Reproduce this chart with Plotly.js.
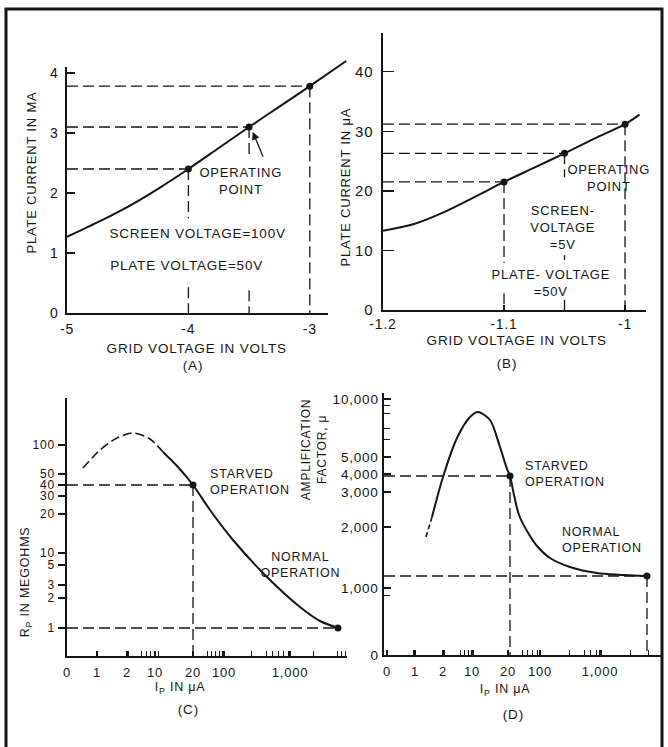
<!DOCTYPE html>
<html><head><meta charset="utf-8">
<script src="https://cdn.plot.ly/plotly-3.0.1.min.js"></script>
<style>
html,body{margin:0;padding:0;background:#fff;}
#chart{width:668px;height:747px;}
#chart svg text{letter-spacing:0.8px;}
</style></head><body><div id="chart"></div>
<script>
// ---------- Panel A : plate current (mA) vs grid voltage ----------
const aGrid  = [-5, -4.75, -4.5, -4.25, -4, -3.75, -3.5, -3.25, -3, -2.7];
const aPlate = [1.27, 1.51, 1.77, 2.07, 2.4, 2.75, 3.1, 3.44, 3.78, 4.2];
const aPtX = [-4, -3.5, -3];
const aPtY = [2.4, 3.1, 3.78];
const aVertSegs = [[2.4, 1.58, 0.43, 0], [3.1, 2.62, 0.38, 0], [3.78, 0]];
const aXTicks = [-5, -4, -3];
const aXTickText = ['-5', '-4', '-3'];
const aYTicks = [0, 1, 2, 3, 4];

// ---------- Panel B : plate current (uA) vs grid voltage ----------
const bGrid  = [-1.2, -1.175, -1.15, -1.125, -1.1, -1.075, -1.05, -1.025, -1, -0.988];
const bPlate = [13.3, 14.4, 16.4, 18.9, 21.5, 23.9, 26.3, 28.8, 31.2, 32.8];
const bPtX = [-1.1, -1.05, -1];
const bPtY = [21.5, 26.3, 31.2];
const bVertSegs = [[21.5, 7.9, 2.8, 0], [26.3, 22.3, 9.2, 8.4, 1.7, 0], [31.2, 0]];
const bXTicks = [-1.2, -1.1, -1];
const bXTickText = ['-1.2', '-1.1', '-1'];
const bYTicks = [0, 10, 20, 30, 40];

// ---------- Panel C : Rp vs Ip (non-uniform printed scales, in scale divisions) ----------
const cXTicks = [0, 3.0, 6.0, 8.8, 12.6, 15.7, 22.3];
const cXTickText = ['0', '1', '2', '10', '20', '100', '1,000'];
const cXMinor = [6.1, 7.4, 7.9, 8.3, 8.7, 9.1, 14.0, 14.4, 14.8, 15.2, 15.5, 18.4, 19.9, 20.5, 21.1, 21.6, 22.1, 24.6, 27.0, 27.4, 27.8];
const cYTicks = [2.8, 5.8, 7.1, 9.1, 10.3, 14.2, 16.0, 17.1, 18.2, 21.1];
const cYTickText = ['1', '2', '3', '5', '10', '20', '30', '40', '50', '100'];
const cDashX = [1.6, 3.3, 5.0, 6.6, 8.3, 9.6];
const cDashY = [18.8, 20.6, 21.8, 22.3, 21.7, 20.4];
const cSolidX = [9.6, 11.1, 12.6, 14.3, 16.6, 20.0, 23.3, 25.3, 27.1];
const cSolidY = [20.4, 18.9, 17.1, 14.6, 11.6, 7.9, 4.9, 3.5, 2.8];
const cPtX = [12.6, 27.1];
const cPtY = [17.1, 2.8];

// ---------- Panel D : amplification factor vs Ip ----------
const dXTicks = [0.3, 3.1, 5.9, 8.8, 12.4, 15.6, 21.6];
const dXTickText = ['0', '1', '2', '10', '20', '100', '1,000'];
const dXMinor = [2.9, 6.0, 7.6, 8.0, 8.4, 8.9, 13.8, 14.3, 14.8, 15.3, 18.5, 20.0, 20.6, 21.2, 21.7, 24.6, 26.4];
const dYTicks = [0, 6.7, 12.8, 16.3, 18.1, 19.8, 25.6];
const dYTickText = ['0', '1,000', '2,000', '3,000', '4,000', '5,000', '10,000'];
const dYMinor = [6.0, 21.6, 22.7, 24.2, 25.0];
const dDashX = [4.2, 4.8];
const dDashY = [11.8, 13.8];
const dSolidX = [4.8, 5.9, 7.3, 8.6, 9.4, 10.6, 11.6, 12.3, 12.6, 13.0, 13.5, 14.3, 15.3, 16.6, 18.6, 21.3, 26.3];
const dSolidY = [13.8, 17.8, 21.7, 23.8, 24.3, 23.5, 20.8, 18.6, 17.9, 16.0, 14.0, 12.4, 10.9, 9.7, 8.8, 8.2, 7.9];
const dPtX = [12.6, 26.3];
const dPtY = [17.9, 7.9];

// ---------- helpers ----------
const W = 668, H = 747;
const FONT = 'Liberation Sans, Arial, sans-serif';
const INK = '#151515';
const px = v => v / W;
const py = v => 1 - v / H;
const GUIDE = {color: INK, width: 1.3, dash: '11px,5px'};

function hGuides(x0, xs, ys, xa, ya) {
  const X = [], Y = [];
  xs.forEach((x, i) => { X.push(x0, x, null); Y.push(ys[i], ys[i], null); });
  return {x: X, y: Y, xaxis: xa, yaxis: ya, mode: 'lines', line: GUIDE, hoverinfo: 'skip'};
}
function vGuides(xs, segs, xa, ya) {
  const X = [], Y = [];
  xs.forEach((x, i) => {
    const s = segs[i];
    for (let k = 0; k < s.length; k += 2) { X.push(x, x, null); Y.push(s[k], s[k + 1], null); }
  });
  return {x: X, y: Y, xaxis: xa, yaxis: ya, mode: 'lines', line: GUIDE, hoverinfo: 'skip'};
}
function curve(x, y, xa, ya, dash, w) {
  return {x, y, xaxis: xa, yaxis: ya, mode: 'lines', cliponaxis: false,
    line: {color: INK, width: w || 2, shape: 'spline', smoothing: 0.8, dash: dash || 'solid'}, hoverinfo: 'skip'};
}
function dots(x, y, xa, ya) {
  return {x, y, xaxis: xa, yaxis: ya, mode: 'markers', cliponaxis: false,
    marker: {color: INK, size: 7}, hoverinfo: 'skip'};
}

const traces = [
  // A (curve on an overlay axis with the same scale, so it can run past the printed axis ends)
  hGuides(-5, aPtX, aPtY, 'x', 'y'),
  vGuides(aPtX, aVertSegs, 'x', 'y'),
  curve(aGrid, aPlate, 'x5', 'y5'),
  dots(aPtX, aPtY, 'x', 'y'),
  // B
  hGuides(-1.2, bPtX, bPtY, 'x2', 'y2'),
  vGuides(bPtX, bVertSegs, 'x2', 'y2'),
  curve(bGrid, bPlate, 'x2', 'y2'),
  dots(bPtX, bPtY, 'x2', 'y2'),
  // C
  hGuides(0, cPtX, cPtY, 'x3', 'y3'),
  vGuides([cPtX[0]], [[cPtY[0], 0]], 'x3', 'y3'),
  curve(cDashX, cDashY, 'x3', 'y3', '9px,4px', 1.6),
  curve(cSolidX, cSolidY, 'x3', 'y3'),
  dots(cPtX, cPtY, 'x3', 'y3'),
  // D
  hGuides(0, dPtX, dPtY, 'x4', 'y4'),
  vGuides(dPtX, [[dPtY[0], 0], [dPtY[1], 0]], 'x4', 'y4'),
  curve(dDashX, dDashY, 'x4', 'y4', '5px,3px', 1.6),
  curve(dSolidX, dSolidY, 'x4', 'y4'),
  dots(dPtX, dPtY, 'x4', 'y4')
];

function axis(domain, range, extra) {
  return Object.assign({
    domain, range, showgrid: false, zeroline: false, showline: true,
    linecolor: INK, linewidth: 1.6, tickcolor: INK, tickwidth: 1.3,
    tickfont: {family: FONT, size: 14, color: INK}, fixedrange: true,
    tickmode: 'array'
  }, extra);
}

// panel A pixel geometry
const aL = 67, aR = 328, aB = 313, aT = 67;
const aXr = [-5, -2.85], aYr = [0, 4.1];
const aSx = (aR - aL) / (aXr[1] - aXr[0]);
const aSy = (aB - aT) / (aYr[1] - aYr[0]);
const aOvR = 352, aOvT = 55;

const layout = {
  width: W, height: H, margin: {l: 0, r: 0, t: 0, b: 0},
  paper_bgcolor: '#fff', plot_bgcolor: 'rgba(0,0,0,0)', showlegend: false,
  xaxis: axis([px(aL), px(aR)], aXr, {anchor: 'y', tickvals: aXTicks, ticktext: aXTickText, ticks: 'inside', ticklen: 0, ticklabelstandoff: 3}),
  yaxis: axis([py(aB), py(aT)], aYr, {anchor: 'x', tickvals: aYTicks, ticks: 'inside', ticklen: 8, ticklabelstandoff: 4}),
  xaxis5: {domain: [px(aL), px(aOvR)], range: [aXr[0], aXr[0] + (aOvR - aL) / aSx], visible: false, anchor: 'y5', fixedrange: true},
  yaxis5: {domain: [py(aB), py(aOvT)], range: [0, (aB - aOvT) / aSy], visible: false, anchor: 'x5', fixedrange: true},
  xaxis2: axis([px(383), px(645.6)], [-1.2, -0.983], {anchor: 'y2', tickvals: bXTicks, ticktext: bXTickText, ticks: 'inside', ticklen: 5, ticklabelstandoff: 1}),
  yaxis2: axis([py(310), py(33)], [0, 46.5], {anchor: 'x2', tickvals: bYTicks, ticks: 'inside', ticklen: 11, ticklabelstandoff: 5, tickfont: {family: FONT, size: 15, color: INK}}),
  xaxis3: axis([px(67), px(347)], [0, 28.0], {anchor: 'y3', tickvals: cXTicks, ticktext: cXTickText, ticks: 'inside', ticklen: 5, ticklabelstandoff: 4,
    tickfont: {family: FONT, size: 13, color: INK},
    minor: {tickmode: 'array', tickvals: cXMinor, ticks: 'inside', ticklen: 5, tickcolor: INK, tickwidth: 1}}),
  yaxis3: axis([py(656), py(398)], [0, 25.8], {anchor: 'x3', tickvals: cYTicks, ticktext: cYTickText, ticks: 'outside', ticklen: 7, ticklabelstandoff: 1,
    tickfont: {family: FONT, size: 12, color: INK}}),
  xaxis4: axis([px(384), px(662)], [0, 27.8], {anchor: 'y4', tickvals: dXTicks, ticktext: dXTickText, ticks: 'inside', ticklen: 5, ticklabelstandoff: 4,
    tickfont: {family: FONT, size: 13, color: INK},
    minor: {tickmode: 'array', tickvals: dXMinor, ticks: 'inside', ticklen: 5, tickcolor: INK, tickwidth: 1}}),
  yaxis4: axis([py(655), py(393)], [0, 26.2], {anchor: 'x4', tickvals: dYTicks, ticktext: dYTickText, ticks: 'inside', ticklen: 7, ticklabelstandoff: 1,
    tickfont: {family: FONT, size: 13.5, color: INK},
    minor: {tickmode: 'array', tickvals: dYMinor, ticks: 'inside', ticklen: 6, tickcolor: INK, tickwidth: 1}}),
  shapes: [
    {type: 'path', xref: 'paper', yref: 'paper',
     path: `M ${px(6)} -0.02 L ${px(6)} ${py(9)} L ${px(662)} ${py(9)} L ${px(662)} -0.02`,
     line: {color: INK, width: 3}}
  ],
  annotations: []
};

function ann(text, x, y, o) {
  o = o || {};
  layout.annotations.push(Object.assign({
    text, x: px(x), y: py(y), xref: 'paper', yref: 'paper', showarrow: false,
    xanchor: 'center', yanchor: 'middle', align: 'center',
    font: {family: FONT, size: o.size || 13, color: INK}
  }, o.extra || {}));
}
// A
ann('GRID VOLTAGE IN VOLTS', 197, 348, {size: 13.5});
ann('(A)', 193, 365, {size: 13.5});
ann('PLATE CURRENT IN MA', 31, 173, {size: 13, extra: {textangle: -90}});
ann('OPERATING<br>POINT', 241, 181, {size: 13});
ann('SCREEN VOLTAGE=100V', 115, 233, {size: 13.5, extra: {xanchor: 'left'}});
ann('PLATE VOLTAGE=50V', 115, 265, {size: 13.5, extra: {xanchor: 'left'}});
layout.annotations.push({x: -3.47, y: 3.02, xref: 'x', yref: 'y', ax: -3.38, ay: 2.58, axref: 'x', ayref: 'y',
  showarrow: true, arrowhead: 2, arrowsize: 1.2, arrowwidth: 1.3, arrowcolor: INK, text: ''});
// B
ann('GRID VOLTAGE IN VOLTS', 517, 340, {size: 13.5});
ann('(B)', 507, 363, {size: 13.5});
ann('PLATE CURRENT IN μA', 345, 187, {size: 13, extra: {textangle: -90}});
ann('OPERATING<br>POINT', 609, 178, {size: 13});
ann('SCREEN-<br>VOLTAGE<br>=5V', 563, 227, {size: 13});
ann('PLATE- VOLTAGE<br>=50V', 551, 283, {size: 13});
// C
ann('R<sub>P</sub> IN MEGOHMS', 26, 582, {size: 12.5, extra: {textangle: -90}});
ann('I<sub>P</sub> IN μA', 180, 688, {size: 12.5});
ann('(C)', 188, 709, {size: 13.5});
ann('STARVED<br>OPERATION', 208, 482, {size: 12.5, extra: {xanchor: 'left', align: 'left'}});
ann('NORMAL<br>OPERATION', 300, 565, {size: 12.5});
// D
ann('AMPLIFICATION<br>FACTOR, μ', 314, 450, {size: 12, extra: {textangle: -90}});
ann('I<sub>P</sub> IN μA', 505, 690, {size: 12.5});
ann('(D)', 513, 714, {size: 13.5});
ann('STARVED<br>OPERATION', 523, 474, {size: 12.5, extra: {xanchor: 'left', align: 'left'}});
ann('NORMAL<br>OPERATION', 560, 540, {size: 12.5, extra: {xanchor: 'left', align: 'left'}});

Plotly.newPlot('chart', traces, layout, {staticPlot: true, displayModeBar: false});
</script></body></html>
